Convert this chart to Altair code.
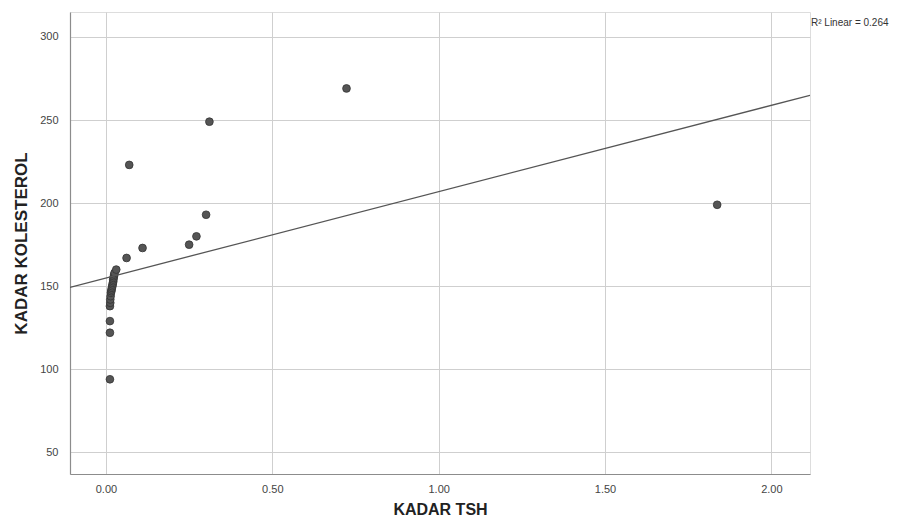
import altair as alt
import pandas as pd

tsh = [0.012, 0.012, 0.012, 0.012, 0.013, 0.013, 0.014, 0.015, 0.016, 0.017,
       0.018, 0.019, 0.020, 0.021, 0.022, 0.022, 0.023, 0.024, 0.025, 0.026,
       0.031, 0.062, 0.110, 0.070, 0.250, 0.272, 0.301, 0.311, 0.723, 1.837]
kolesterol = [94, 122, 129, 138, 140, 142, 144, 146, 147, 148,
              149, 150, 151, 152, 153, 154, 155, 156, 157, 158,
              160, 167, 173, 223, 175, 180, 193, 249, 269, 199]

x_ticks = [0.0, 0.5, 1.0, 1.5, 2.0]
y_ticks = [50, 100, 150, 200, 250, 300]
x_domain = [-0.108, 2.116]
y_domain = [37, 315]
r2_label = "R\u00b2 Linear = 0.264"

df = pd.DataFrame({"tsh": tsh, "kolesterol": kolesterol})

FONT = "Liberation Sans Narrow, Liberation Sans, Arial, sans-serif"

x_enc = alt.X(
    "tsh:Q",
    scale=alt.Scale(domain=x_domain, nice=False, zero=False),
    axis=alt.Axis(
        values=x_ticks, format=".2f", title="KADAR TSH",
        grid=True, gridColor="#cfcfcf", gridWidth=1,
        domainColor="#8c8c8c", domainWidth=1.2, ticks=False,
        labelPadding=9, labelFontSize=11, labelColor="#444444", labelFont=FONT,
        titleFont="Liberation Sans, Arial, sans-serif", titleFontSize=16,
        titleFontWeight="bold", titleColor="#222222",
        titleX=370, titleY=35, titleBaseline="middle", titleAlign="center",
    ),
)
y_enc = alt.Y(
    "kolesterol:Q",
    scale=alt.Scale(domain=y_domain, nice=False, zero=False),
    axis=alt.Axis(
        values=y_ticks, format="d", title="KADAR KOLESTEROL",
        grid=True, gridColor="#cfcfcf", gridWidth=1,
        domainColor="#8c8c8c", domainWidth=1.2, ticks=False,
        labelPadding=12, labelFontSize=11, labelColor="#444444", labelFont=FONT,
        titleFont="Liberation Sans, Arial, sans-serif", titleFontSize=17,
        titleFontWeight="bold", titleColor="#222222",
        titleX=-49, titleY=231, titleAngle=-90, titleBaseline="middle", titleAlign="center",
    ),
)

points = alt.Chart(df).mark_point(
    filled=True, size=60, color="#555555", stroke="#333333", strokeWidth=0.8, opacity=1
).encode(x=x_enc, y=y_enc)

fit = alt.Chart(df).transform_regression(
    "tsh", "kolesterol", extent=x_domain
).mark_line(color="#555555", strokeWidth=1.3, clip=True).encode(
    x=alt.X("tsh:Q"), y=alt.Y("kolesterol:Q")
)

label = alt.Chart(pd.DataFrame({"t": [r2_label]})).mark_text(
    align="left", baseline="middle", fontSize=10, font=FONT, color="#333333"
).encode(text="t:N", x=alt.value(741), y=alt.value(11))

chart = alt.layer(points, fit, label).properties(
    width=740, height=462,
    autosize=alt.AutoSizeParams(type="none"),
    padding={"left": 62, "top": 4, "right": 86, "bottom": 44},
).configure_view(stroke="transparent", strokeWidth=0, strokeOpacity=0).configure(background="white")

chart.save("out.html", embed_options={"renderer": "svg", "actions": False})
